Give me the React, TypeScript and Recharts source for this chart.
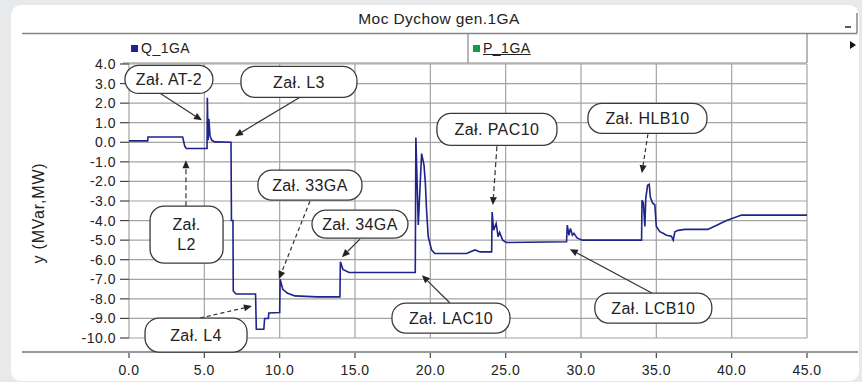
import React from "react";
import {
  LineChart,
  Line,
  XAxis,
  YAxis,
  CartesianGrid,
  Legend,
  ReferenceDot,
  ReferenceLine,
} from "recharts";

// time axis [s] and reactive power Q_1GA [MVar]
const timeS = [
  0, 1.24, 1.26, 3.56, 3.7, 3.8, 5.18, 5.2, 5.25, 5.3, 5.38, 5.5, 5.7, 6.77,
  6.8, 6.9, 6.92, 7.1, 8.4, 8.45, 8.95, 9.0, 9.25, 9.28, 10.0, 10.03, 10.2,
  10.5, 11.0, 12.5, 14.0, 14.03, 14.2, 14.6, 19.0, 19.04, 19.2, 19.42, 19.58,
  19.67, 19.75, 19.86, 20.09, 20.3, 22.4, 22.96, 23.3, 24.07, 24.1, 24.2,
  24.37, 24.5, 24.6, 24.8, 25.05, 29.04, 29.09, 29.2, 29.3, 29.43, 29.53,
  29.75, 30.1, 34.02, 34.05, 34.14, 34.24, 34.3, 34.42, 34.53, 34.6, 34.75,
  34.9, 35.0, 35.23, 35.45, 35.67, 36.0, 36.12, 36.23, 36.45, 36.9, 38.42,
  39.66, 40.66, 45,
];
const qMvar = [
  0.07, 0.07, 0.27, 0.27, -0.2, -0.32, -0.32, 2.28, 0.1, 1.2, 0.3, 0.1, 0.02,
  0.0, -4.0, -4.0, -7.6, -7.75, -7.75, -9.55, -9.55, -9.0, -9.0, -8.72, -8.7,
  -7.0, -7.5, -7.7, -7.85, -7.9, -7.9, -6.1, -6.5, -6.65, -6.65, 0.24, -4.23,
  -0.58, -1.17, -2.1, -3.47, -4.83, -5.51, -5.68, -5.68, -5.5, -5.6, -5.6,
  -3.56, -4.49, -4.15, -4.83, -4.6, -5.0, -5.12, -5.08, -4.23, -4.75, -4.4,
  -4.75, -4.65, -4.9, -5.0, -5.0, -2.96, -3.1, -4.3, -2.85, -2.2, -2.15, -2.8,
  -3.1, -3.2, -4.3, -4.57, -4.65, -4.75, -4.8, -5.0, -4.57, -4.5, -4.45, -4.45,
  -4.0, -3.72, -3.72,
];

const xTicks = [0, 5, 10, 15, 20, 25, 30, 35, 40, 45];
const yTicks = [-10, -9, -8, -7, -6, -5, -4, -3, -2, -1, 0, 1, 2, 3, 4];

const legendItems = [
  { name: "Q_1GA", color: "#23238f" },
  { name: "P_1GA", color: "#17994a" },
];

// switching events: bubble centre and arrow in data units, bubble size in px
const callouts = [
  { lines: ["Zał. AT-2"], at: [2.65, 3.21], w: 88, h: 28, from: [2.06, 2.5], to: [4.84, 1.12], dash: "" },
  { lines: ["Zał. L3"], at: [11.28, 3.09], w: 116, h: 31, from: [11.35, 2.3], to: [7.03, 0.31], dash: "" },
  { lines: ["Zał.", "L2"], at: [3.82, -4.72], w: 73, h: 57, from: [3.78, -3.27], to: [3.78, -0.92], dash: "5 3" },
  { lines: ["Zał. 33GA"], at: [12.01, -2.19], w: 104, h: 30, from: [12.01, -3.01], to: [9.95, -6.99], dash: "4 3" },
  { lines: ["Zał. 34GA"], at: [15.33, -4.18], w: 96, h: 28, from: [15.33, -4.95], to: [14.13, -5.87], dash: "" },
  { lines: ["Zał. L4"], at: [4.45, -9.85], w: 102, h: 34, from: [4.71, -8.98], to: [8.16, -8.37], dash: "4 3" },
  { lines: ["Zał. PAC10"], at: [24.42, 0.66], w: 120, h: 32, from: [24.42, -0.2], to: [24.15, -3.21], dash: "5 3" },
  { lines: ["Zał. LAC10"], at: [21.37, -8.98], w: 118, h: 30, from: [21.3, -8.21], to: [19.44, -6.79], dash: "" },
  { lines: ["Zał. HLB10"], at: [34.41, 1.22], w: 119, h: 30, from: [34.44, 0.41], to: [34.04, -1.58], dash: "4 3" },
  { lines: ["Zał. LCB10"], at: [34.8, -8.47], w: 117, h: 30, from: [34.7, -7.7], to: [29.26, -5.46], dash: "" },
];

const data = timeS.map((t, i) => ({ t, q: qMvar[i] }));

const FONT = "'Liberation Sans', Arial, sans-serif";
const TXT = "#222";

const Bubble = ({ cx, cy, c }: any) => {
  const n = c.lines.length;
  return (
    <g>
      <rect
        x={cx - c.w / 2}
        y={cy - c.h / 2}
        width={c.w}
        height={c.h}
        rx={Math.min(14, c.h / 2)}
        fill="#fff"
        stroke="#3a3a3a"
        strokeWidth={1.3}
      />
      {c.lines.map((s: string, i: number) => (
        <text
          key={s}
          x={cx}
          y={cy + (i - (n - 1) / 2) * 20}
          dy="0.36em"
          textAnchor="middle"
          fontSize={16}
          letterSpacing={0.4}
          fill={TXT}
          fontFamily={FONT}
        >
          {s}
        </text>
      ))}
    </g>
  );
};

const Arrow = (p: any) => {
  const { x1, y1, x2, y2, strokeDasharray } = p;
  const a = Math.atan2(y2 - y1, x2 - x1);
  const L = 8;
  const W = 3.5;
  const bx = x2 - L * Math.cos(a);
  const by = y2 - L * Math.sin(a);
  const pts = `${x2},${y2} ${bx + W * Math.sin(a)},${by - W * Math.cos(a)} ${
    bx - W * Math.sin(a)
  },${by + W * Math.cos(a)}`;
  return (
    <g>
      <line
        x1={x1}
        y1={y1}
        x2={bx}
        y2={by}
        stroke="#333"
        strokeWidth={1.2}
        strokeDasharray={strokeDasharray || undefined}
      />
      <polygon points={pts} fill="#222" />
    </g>
  );
};

const XTick = ({ x, y, payload }: any) => (
  <g>
    <line x1={x} y1={y + 15} x2={x} y2={y + 20} stroke="#444" strokeWidth={1.2} />
    <text
      x={x}
      y={y + 37}
      textAnchor="middle"
      fontSize={14}
      letterSpacing={0.5}
      fill={TXT}
      fontFamily={FONT}
    >
      {Number(payload.value).toFixed(1)}
    </text>
  </g>
);

const LegendBar = () => (
  <div style={{ position: "relative", width: 684, height: 28, fontFamily: FONT }}>
    {legendItems.map((it, i) => (
      <div
        key={it.name}
        style={{
          position: "absolute",
          left: i === 0 ? 8 : 350,
          top: 5,
          display: "flex",
          alignItems: "center",
          fontSize: 14,
          letterSpacing: 0.5,
          color: TXT,
        }}
      >
        <span
          style={{
            display: "inline-block",
            width: 7,
            height: 7,
            background: it.color,
            marginRight: 3,
          }}
        />
        <span style={{ textDecoration: i === 1 ? "underline" : "none" }}>{it.name}</span>
      </div>
    ))}
  </div>
);

export default function App() {
  return (
    <div style={{ position: "absolute", left: 0, top: 0, width: 862, height: 382 }}>
      <svg width={862} height={382} style={{ position: "absolute", left: 0, top: 0 }}>
        <rect width={862} height={382} fill="#e8e9eb" />
        <rect x={11} y={5} width={848} height={376} rx={10} fill="#fff" />
        <text
          x={439}
          y={24}
          textAnchor="middle"
          fontSize={15.5}
          letterSpacing={0.4}
          fill={TXT}
          fontFamily={FONT}
        >
          Moc Dychow gen.1GA
        </text>
        <line x1={22} y1={33.5} x2={857} y2={33.5} stroke="#888" strokeWidth={1.5} />
        <line x1={857} y1={13} x2={857} y2={33.5} stroke="#888" strokeWidth={1.5} />
        <line x1={845} y1={27} x2={851} y2={27} stroke="#222" strokeWidth={1.5} />
        <line x1={468} y1={34} x2={468} y2={63} stroke="#888" strokeWidth={1.2} />
        <line x1={807} y1={34} x2={807} y2={63} stroke="#888" strokeWidth={1.2} />
        <line x1={123} y1={63} x2={807} y2={63} stroke="#888" strokeWidth={1.2} />
        <polygon points="850,41 856,45 850,49" fill="#111" />
        <line x1={22} y1={352} x2={858} y2={352} stroke="#777" strokeWidth={1.5} />
      </svg>
      <LineChart
        width={862}
        height={382}
        data={data}
        margin={{ top: 64, right: 55, bottom: 14, left: 29 }}
        style={{ position: "absolute", left: 0, top: 0, fontFamily: FONT }}
      >
        <CartesianGrid stroke="#a3a3a3" strokeWidth={1.2} />
        <XAxis
          dataKey="t"
          type="number"
          domain={[0, 45]}
          ticks={xTicks}
          interval={0}
          axisLine={false}
          tickLine={false}
          tickSize={0}
          tickMargin={0}
          height={30}
          tick={<XTick />}
        />
        <YAxis
          type="number"
          domain={[-10, 4]}
          ticks={yTicks}
          interval={0}
          width={100}
          axisLine={false}
          tickSize={9}
          tickMargin={4}
          tickLine={{ stroke: "#444", strokeWidth: 1.2 }}
          tick={{ fontSize: 14, fill: TXT, letterSpacing: 0.5 }}
          tickFormatter={(v: number) => v.toFixed(1)}
          label={({ viewBox }: any) => (
            <text
              transform={`translate(38, 213) rotate(-90)`}
              textAnchor="middle"
              dy="0.35em"
              fontSize={16}
              letterSpacing={0.8}
              fill={TXT}
              fontFamily={FONT}
            >
              y (MVar,MW)
            </text>
          )}
        />
        <Legend
          layout="horizontal"
          verticalAlign="middle"
          align="center"
          wrapperStyle={{ top: 35, left: 123, width: 684, height: 28 }}
          content={<LegendBar />}
        />
        <Line
          dataKey="q"
          name="Q_1GA"
          type="linear"
          stroke="#1f238c"
          strokeWidth={1.6}
          dot={false}
          isAnimationActive={false}
        />
        {callouts.map((c) => (
          <ReferenceLine
            key={"a" + c.lines.join()}
            segment={[
              { x: c.from[0], y: c.from[1] },
              { x: c.to[0], y: c.to[1] },
            ]}
            ifOverflow="visible"
            strokeDasharray={c.dash}
            shape={Arrow}
          />
        ))}
        {callouts.map((c) => (
          <ReferenceDot
            key={"b" + c.lines.join()}
            x={c.at[0]}
            y={c.at[1]}
            r={1}
            ifOverflow="visible"
            shape={(p: any) => <Bubble cx={p.cx} cy={p.cy} c={c} />}
          />
        ))}
      </LineChart>
    </div>
  );
}
